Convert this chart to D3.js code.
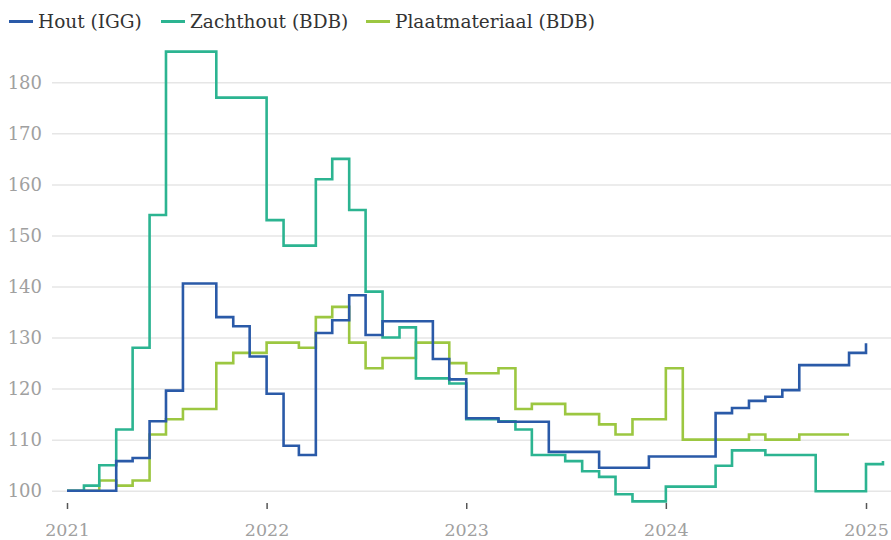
<!DOCTYPE html>
<html>
<head>
<meta charset="utf-8">
<script src="https://d3js.org/d3.v7.min.js"></script>
<style>
  body { margin: 0; background: #fff; }
  svg { display: block; }
</style>
</head>
<body>
<div id="chart"></div>
<script>

// chart size
var width = 891
var height = 540

// series names, colours
var series_names = ["Hout (IGG)", "Zachthout (BDB)", "Plaatmateriaal (BDB)"]
var series_colors = ["#2a5aa8", "#2cb491", "#9cc741"]

// monthly index values, first value = januari 2021
var hout_igg = [100, 100, 100, 105.8, 106.4, 113.6, 119.6, 140.6, 140.6, 134, 132.2, 126.3,
  119, 108.8, 107, 130.9, 133.4, 138.3, 130.5, 133.2, 133.2, 133.2, 125.8, 121.8,
  114.2, 114.2, 113.5, 113.5, 113.5, 107.6, 107.6, 107.6, 104.5, 104.5, 104.5, 106.7,
  106.7, 106.7, 106.7, 115.2, 116.2, 117.6, 118.4, 119.7, 124.6, 124.6, 124.6, 127,
  128.9]

var zachthout = [100, 101, 105, 112, 128, 154, 186, 186, 186, 177, 177, 177,
  153, 148, 148, 161, 165, 155, 139, 130, 132, 122, 122, 121,
  114, 114, 113.6, 112, 107, 107, 105.8, 103.8, 102.7, 99.3, 97.9, 97.9,
  100.8, 100.8, 100.8, 104.9, 107.9, 107.9, 107, 107, 107, 99.9, 99.9, 99.9,
  105.2, 105.8]

var plaatmateriaal = [100, 100, 102, 101, 102, 111, 114, 116, 116, 125, 127, 127,
  129, 129, 128, 134, 136, 129, 124, 126, 126, 129, 129, 125,
  123, 123, 124, 116, 117, 117, 115, 115, 113, 111, 114, 114,
  124, 110, 110, 110, 110, 111, 110, 110, 111, 111, 111, 111]

var y_ticks = [100, 110, 120, 130, 140, 150, 160, 170, 180]
var x_ticks = [2021, 2022, 2023, 2024, 2025]

var font = "'DejaVu Serif', serif"

var svg = d3.select("#chart").append("svg")
  .attr("width", width)
  .attr("height", height)

var x = d3.scaleUtc()
  .domain([new Date(Date.UTC(2021, 0, 1)), new Date(Date.UTC(2025, 0, 1))])
  .range([67, 866])

var y = d3.scaleLinear()
  .domain([100, 180])
  .range([490.7, 82.3])

// gridlines + y labels
var y_axis = svg.append("g")
  .attr("transform", "translate(52,0)")
  .call(d3.axisRight(y).tickValues(y_ticks).tickSize(width - 52).tickPadding(0).tickFormat(d => d))

y_axis.select(".domain").remove()
y_axis.selectAll(".tick line")
  .attr("stroke", "#e6e6e6")
  .attr("stroke-width", 1.5)
y_axis.selectAll(".tick text")
  .attr("x", -10)
  .attr("text-anchor", "end")
  .attr("fill", "#a0a0a0")
  .style("font-family", font)
  .style("font-size", "18px")

// x axis ticks + labels
var x_axis = svg.append("g")
  .attr("transform", "translate(0,503)")
  .call(d3.axisBottom(x)
    .tickValues(x_ticks.map(d => new Date(Date.UTC(d, 0, 1))))
    .tickSize(6)
    .tickPadding(15)
    .tickFormat(d3.utcFormat("%Y")))

x_axis.select(".domain").remove()
x_axis.selectAll(".tick line")
  .attr("stroke", "#555")
  .attr("stroke-width", 1.5)
x_axis.selectAll(".tick text")
  .attr("fill", "#a0a0a0")
  .style("font-family", font)
  .style("font-size", "17.5px")

// step lines
var line = d3.line()
  .x((d, i) => x(new Date(Date.UTC(2021, i, 1))))
  .y(d => y(d))
  .curve(d3.curveStepAfter)

var all_series = [hout_igg, zachthout, plaatmateriaal]
var draw_order = [2, 1, 0]

draw_order.forEach(function(k) {
  svg.append("path")
    .datum(all_series[k])
    .attr("d", line)
    .attr("fill", "none")
    .attr("stroke", series_colors[k])
    .attr("stroke-width", 2.6)
    .attr("stroke-linejoin", "miter")
})

// legend
var legend_x = [9, 161, 366]
var legend = svg.append("g")

series_names.forEach(function(name, i) {
  var g = legend.append("g").attr("transform", "translate(" + legend_x[i] + ",21.5)")
  g.append("line")
    .attr("x1", 0).attr("x2", 24)
    .attr("y1", 0).attr("y2", 0)
    .attr("stroke", series_colors[i])
    .attr("stroke-width", 3)
  g.append("text")
    .text(name)
    .attr("x", 29)
    .attr("y", 0)
    .attr("dy", "0.35em")
    .attr("fill", "#333")
    .style("font-family", font)
    .style("font-size", "18.5px")
})

</script>
</body>
</html>
